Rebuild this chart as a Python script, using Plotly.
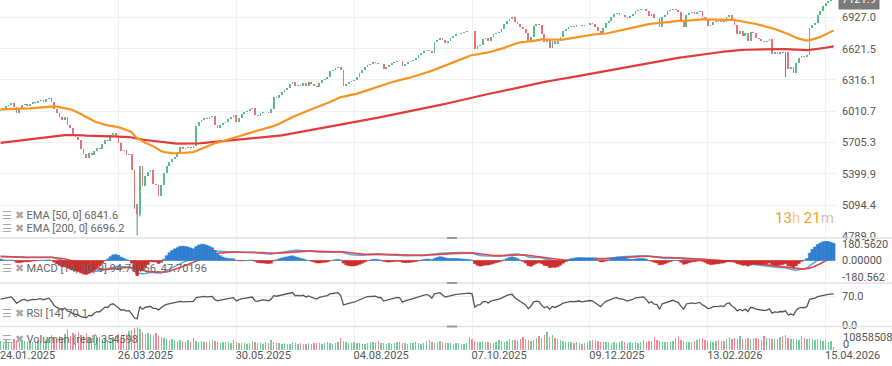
import plotly.graph_objects as go
from plotly.subplots import make_subplots

# ---------------- data ----------------
closes = [
    6025,
    6040, 6060, 6075, 6090, 6050, 5990, 6030, 6070, 6085, 6060,
    6080, 6100, 6095, 6110, 6120, 6105, 6130, 6140, 6100, 6030,
    5990, 5960, 5930, 5960, 5880, 5850, 5790, 5760, 5730, 5640,
    5590, 5560, 5600, 5580, 5620, 5650, 5640, 5690, 5730, 5720,
    5780, 5800, 5760, 5700, 5620, 5630, 5580, 5590, 5440, 5110,
    5010, 5480, 5280, 5380, 5420, 5440, 5300, 5290, 5180, 5290,
    5410, 5480, 5520, 5550, 5570, 5600, 5660, 5640, 5650, 5665,
    5650, 5670, 5870, 5910, 5930, 5950, 5940, 5960, 5965, 5880,
    5850, 5880, 5895, 5910, 5935, 5960, 5975, 5905, 5945, 5985,
    6000, 6015, 6030, 6045, 5975, 5965, 5990, 6005, 6000, 5990,
    6030, 6150, 6140, 6165, 6195, 6220, 6240, 6280, 6300, 6255,
    6270, 6262, 6285, 6262, 6292, 6275, 6262, 6250, 6290, 6320,
    6330, 6345, 6400, 6415, 6430, 6445, 6410, 6260, 6275, 6300,
    6310,
    6320, 6350, 6380, 6410, 6440, 6465, 6475, 6490, 6485, 6470,
    6470, 6425, 6440, 6460, 6485, 6495, 6505, 6500, 6450, 6470,
    6490, 6500, 6515, 6530, 6560, 6580, 6595, 6610, 6600, 6575,
    6690, 6705, 6730, 6705, 6680, 6700, 6725, 6745, 6760, 6765,
    6775, 6782, 6790, 6795, 6790, 6615, 6650, 6660, 6715, 6725,
    6700, 6740, 6760, 6770, 6785, 6810, 6860, 6890, 6915, 6930,
    6885, 6860, 6830, 6810, 6770, 6685, 6735, 6840, 6860, 6850,
    6760, 6690, 6720, 6625, 6700, 6665, 6695, 6735, 6790, 6810,
    6835, 6842, 6835, 6848, 6855, 6840, 6848, 6852, 6870, 6862,
    6830, 6790, 6765, 6820, 6870, 6895, 6930, 6955, 6968, 6950,
    6950, 6935, 6920, 6942, 6955, 6990, 7000, 7005, 7012, 6985,
    6940, 6960, 6925, 6922, 6830, 6930, 6950, 6985, 7000, 7012,
    6995,
    6975, 6900, 6830, 6945, 6965, 6975, 6960, 6978, 6988, 6935,
    6905, 6845, 6852, 6880, 6890, 6885, 6892, 6880, 6935, 6945,
    6890, 6850, 6765, 6790, 6745, 6775, 6700, 6785, 6770, 6725,
    6712, 6700, 6685, 6692, 6712, 6565, 6590, 6572, 6585, 6578,
    6592, 6420, 6440, 6380, 6480, 6530, 6548, 6540, 6562, 6820,
    6850, 6870, 6950, 6985, 7040, 7070, 7090, 7105,
    7121.9,
]
first_open = 6010

# extreme wick lows (bar index -> price)
wick_low_idx = [50, 51, 52, 293]
wick_low_val = [5060, 4800, 4985, 6345]

volumes_m = [
    4.2, 3.8, 4.5, 3.6, 4.0, 5.1, 4.3, 3.9, 4.6, 4.1,
    3.7, 4.4, 4.0, 3.5, 4.8, 4.2, 3.9, 4.5, 5.6, 7.2,
    6.1, 5.4, 6.8, 5.9, 7.5, 9.8, 6.7, 7.9, 6.2, 8.4,
    7.1, 6.5, 7.8, 6.0, 5.8, 6.9, 5.5, 6.3, 5.2, 5.7,
    4.9, 5.3, 6.1, 6.6, 7.4, 5.9, 6.8, 7.7, 8.9, 9.6,
    10.4, 10.86, 9.9, 8.7, 7.6, 8.2, 7.1, 6.9, 8.0, 6.4,
    6.0, 5.6, 5.1, 4.8, 5.3, 4.6, 4.4, 4.9, 4.2, 4.0,
    4.5, 3.8, 5.6, 4.3, 3.9, 4.1, 3.6, 3.7, 4.2, 4.8,
    4.4, 3.9, 3.5, 3.8, 4.0, 3.6, 3.4, 4.6, 3.9, 3.3,
    3.5, 3.2, 3.0, 3.4, 4.1, 3.8, 3.2, 3.1, 2.9, 3.6,
    3.3, 4.5, 3.9, 3.4, 3.1, 2.8, 3.2, 3.0, 2.7, 3.8,
    3.1, 2.9, 3.3, 2.6, 3.0, 3.4, 2.8, 3.5, 3.1, 3.2,
    2.9, 3.3, 3.6, 3.2, 3.0, 3.4, 3.9, 5.8, 4.4, 3.7,
    3.5, 3.3, 3.6, 3.2, 3.4, 3.0, 2.8, 3.1, 3.6, 3.9,
    3.3, 4.4, 3.5, 3.2, 3.0, 3.3, 2.9, 3.1, 4.0, 3.6,
    3.4, 3.2, 3.0, 3.5, 3.3, 3.8, 3.1, 2.9, 3.4, 4.1,
    4.6, 3.9, 3.5, 3.8, 4.2, 3.6, 3.3, 3.4, 3.2, 3.0,
    3.1, 3.3, 3.0, 2.9, 3.2, 6.2, 5.1, 4.4, 4.0, 3.7,
    4.2, 3.8, 3.6, 3.4, 3.3, 3.9, 4.6, 4.2, 4.0, 4.4,
    5.0, 4.5, 4.7, 4.2, 5.3, 6.0, 5.4, 4.6, 4.3, 4.8,
    5.9, 6.6, 5.5, 7.2, 8.5, 6.3, 7.0, 5.6, 5.0, 4.7,
    4.2, 3.9, 3.6, 3.8, 3.4, 3.7, 3.2, 2.9, 3.5, 3.6,
    4.1, 4.6, 4.9, 4.3, 4.0, 3.8, 3.9, 3.6, 3.4, 3.8,
    3.5, 3.9, 4.2, 3.7, 3.5, 3.9, 3.4, 3.6, 3.3, 4.0,
    4.5, 3.8, 4.1, 4.3, 6.1, 4.7, 4.2, 3.9, 3.6, 3.8,
    4.0, 4.4, 5.6, 6.4, 4.8, 4.2, 4.0, 3.9, 3.7, 4.3,
    4.6, 5.1, 5.5, 4.7, 4.3, 4.1, 4.0, 4.2, 4.6, 4.1,
    4.4, 5.0, 6.3, 5.4, 5.8, 5.1, 6.5, 5.3, 5.0, 5.6,
    5.2, 5.5, 5.9, 5.1, 4.8, 6.6, 5.7, 5.9, 5.2, 5.4,
    5.0, 6.2, 6.8, 7.0, 5.9, 5.4, 5.1, 5.3, 4.9, 6.4,
    5.6, 5.2, 5.8, 5.0, 4.7, 5.4, 4.6, 4.4, 4.9, 3.8,
    4.1, 1.2,
]

date_tick_idx = [0, 44, 88, 132, 176, 220, 264, 308]
date_labels = ["24.01.2025", "26.03.2025", "30.05.2025", "04.08.2025",
               "07.10.2025", "09.12.2025", "13.02.2026", "15.04.2026"]
price_ticks = [4789.0, 5094.4, 5399.9, 5705.3, 6010.7, 6316.1, 6621.5, 6927.0]
macd_ticks = [180.562, 0.0, -180.562]
macd_tick_text = ["180.5620", "0.00000", "-180.562"]
rsi_ticks = [70, 0]
rsi_tick_text = ["70.0", "0.0"]
vol_labels = ["10858508", "0"]
vol_max = 10858508

# indicator state at the left edge
ema50_seed, ema200_seed = 6030, 5700
ema14_seed, ema30_seed, signal_seed = 6030, 5980, 40
rsi_gain_seed, rsi_loss_seed = 20.0, 12.5

last_price = "7121.9"
legend_ema50 = "EMA [50, 0] 6841.6"
legend_ema200 = "EMA [200, 0] 6696.2"
legend_macd = "MACD [14, 30, 9] 94.75166, 47.70196"
legend_rsi = "RSI [14] 70.1"
legend_vol = "Volumen (real) 354598"

# ---------------- derived series ----------------
n = len(closes)
x = list(range(n))
opens = [first_open] + closes[:-1]
volumes = [v * 1e6 for v in volumes_m[:n]]


def ema(vals, period, seed):
    k = 2.0 / (period + 1)
    e = seed
    out = []
    for v in vals:
        e = e + k * (v - e)
        out.append(e)
    return out


ema50 = ema(closes, 50, ema50_seed)
ema200 = ema(closes, 200, ema200_seed)
ema14 = ema(closes, 14, ema14_seed)
ema30 = ema(closes, 30, ema30_seed)
macd = [a - b for a, b in zip(ema14, ema30)]
signal = ema(macd, 9, signal_seed)
hist = [m - s for m, s in zip(macd, signal)]
hist_span = max(abs(h) for h in hist)

rsi = []
ag, al = rsi_gain_seed, rsi_loss_seed
prev = first_open
for c in closes:
    ch = c - prev
    ag = (ag * 13 + max(ch, 0)) / 14
    al = (al * 13 + max(-ch, 0)) / 14
    rsi.append(100 - 100 / (1 + ag / al) if al > 0 else 100)
    prev = c

GREEN = "#58bd8a"
RED = "#ea727b"
up = [c >= o for o, c in zip(opens, closes)]
body_base = [min(o, c) for o, c in zip(opens, closes)]
body_h = [max(abs(c - o), 3) for o, c in zip(opens, closes)]
body_col = [GREEN if u else RED for u in up]

wx, wy = [], []
for i, lo in zip(wick_low_idx, wick_low_val):
    wx += [i, i, None]
    wy += [min(opens[i], closes[i]), lo, None]

# ---------------- figure ----------------
fig = make_subplots(rows=4, cols=1, shared_xaxes=True, vertical_spacing=0)

fig.add_trace(go.Bar(x=x, y=body_h, base=body_base, width=0.66,
                     marker=dict(color=body_col, line=dict(width=0)),
                     hoverinfo="skip"), row=1, col=1)
fig.add_trace(go.Scatter(x=wx, y=wy, mode="lines",
                         line=dict(color="#2e9e63", width=1), hoverinfo="skip"),
              row=1, col=1)
fig.add_trace(go.Scatter(x=x, y=ema200, mode="lines",
                         line=dict(color="#e03b3b", width=2.2)), row=1, col=1)
fig.add_trace(go.Scatter(x=x, y=ema50, mode="lines",
                         line=dict(color="#f7931e", width=2.2)), row=1, col=1)

# histogram on its own (overlaying) scale inside the MACD pane
hist_col = ["#2f7fd0" if h >= 0 else "#cf2b2b" for h in hist]
fig.add_trace(go.Bar(x=x, y=hist, width=1.0, yaxis="y5", xaxis="x2",
                     marker=dict(color=hist_col, line=dict(color=hist_col, width=0.6))))
fig.add_trace(go.Scatter(x=x, y=macd, mode="lines",
                         line=dict(color="#5ba3e6", width=1.6)), row=2, col=1)
fig.add_trace(go.Scatter(x=x, y=signal, mode="lines",
                         line=dict(color="#e04848", width=1.6)), row=2, col=1)

fig.add_trace(go.Scatter(x=x, y=rsi, mode="lines",
                         line=dict(color="#555555", width=1.3)), row=3, col=1)

vol_col = ["#72cc9c" if u else "#f08a92" for u in up]
fig.add_trace(go.Bar(x=x, y=volumes, width=0.5,
                     marker=dict(color=vol_col, line=dict(width=0))), row=4, col=1)

W, H = 892, 366
ML, MR, MT, MB = 0, 56, 0, 16
PH = H - MT - MB


def dom(top_px, bot_px):
    return [(PH - bot_px) / PH, (PH - top_px) / PH]


px_per_bar = 2.679
xr = [-0.2, -0.2 + (W - MR) / px_per_bar]
grid = "#f0f0f0"
afont = dict(family="Roboto", size=11, color="#555555")

for i in range(1, 5):
    key = "xaxis" if i == 1 else f"xaxis{i}"
    fig.layout[key].update(range=xr, tickmode="array", tickvals=date_tick_idx,
                           showgrid=True, gridcolor=grid, gridwidth=1,
                           zeroline=False, showline=False, ticks="",
                           showticklabels=(i == 4), fixedrange=True,
                           automargin=False)
fig.layout.xaxis4.update(ticktext=date_labels, tickfont=afont,
                         ticklabelshift=27, ticklabelstandoff=-3,
                         ticklabeloverflow="allow")

common_y = dict(side="right", zeroline=False, ticks="", automargin=False,
                tickfont=afont, ticklabelstandoff=5, tickmode="array")
fig.layout.yaxis.update(domain=dom(0, 237), range=[4785, 7096],
                        tickvals=price_ticks,
                        ticktext=[f"{v:.1f}" for v in price_ticks],
                        showgrid=True, gridcolor=grid, **common_y)
macd_dom = dom(239, 282)
fig.layout.yaxis2.update(domain=macd_dom, range=[-232, 232],
                         tickvals=macd_ticks, ticktext=macd_tick_text,
                         showgrid=False, **common_y)
fig.layout.yaxis3.update(domain=dom(284, 325), range=[0, 100],
                         tickvals=rsi_ticks, ticktext=rsi_tick_text,
                         showgrid=True, gridcolor=grid, **common_y)
fig.layout.yaxis4.update(domain=dom(327, 350), range=[0, vol_max], side="right",
                         showticklabels=False, showgrid=False, zeroline=False,
                         ticks="", automargin=False)
fig.update_layout(yaxis5=dict(overlaying="y2", anchor="x2", side="right",
                              range=[-hist_span * 1.12, hist_span * 1.12],
                              showticklabels=False, showgrid=False,
                              zeroline=False, ticks="", automargin=False))

shapes = []
for py in [238, 283, 326.5]:
    yp = (PH - py) / PH
    shapes.append(dict(type="line", xref="paper", yref="paper",
                       x0=0, x1=W / (W - MR), y0=yp, y1=yp,
                       line=dict(color="#e2e2e2", width=1.5)))
    cx = 452 / (W - MR)
    shapes.append(dict(type="rect", xref="paper", yref="paper",
                       x0=cx - 5 / (W - MR), x1=cx + 5 / (W - MR),
                       y0=yp - 1 / PH, y1=yp + 1 / PH,
                       fillcolor="#9a9a9a", line=dict(width=0)))


def ypap(py):
    return (PH - py) / PH


icons = '<span style="color:#a8a8a8">☰ ✖</span> '
lfont = dict(family="Roboto", size=11, color="#666666")
annotations = []
for txt, py in [(legend_ema50, 215), (legend_ema200, 228), (legend_macd, 268),
                (legend_rsi, 313), (legend_vol, 339)]:
    annotations.append(dict(xref="paper", yref="paper", x=0, y=ypap(py),
                            xanchor="left", yanchor="middle", showarrow=False,
                            text=icons + txt, font=lfont))

annotations.append(dict(
    xref="paper", yref="paper", x=1, y=ypap(218), xanchor="right", yanchor="middle",
    showarrow=False, font=dict(family="Roboto", size=15, color="#f5a11c"),
    text='13<span style="color:#f7c98a">h</span> 21<span style="color:#c8c8c8">m</span>'))

annotations.append(dict(
    xref="paper", yref="paper", x=1, y=1, xanchor="left", yanchor="middle",
    xshift=2, yshift=1, showarrow=False, text=last_price, bgcolor="#7b7b7b",
    borderpad=3, font=dict(family="Roboto", size=11, color="#ffffff")))

for txt, py in zip(vol_labels, [337, 344]):
    annotations.append(dict(xref="paper", yref="paper", x=1, y=ypap(py),
                            xanchor="left", yanchor="middle", xshift=5,
                            showarrow=False, text=txt, font=afont))

fig.update_layout(
    width=W, height=H,
    margin=dict(l=ML, r=MR, t=MT, b=MB, autoexpand=False),
    paper_bgcolor="white", plot_bgcolor="white", showlegend=False,
    bargap=0, barmode="overlay", font=dict(family="Roboto"),
    shapes=shapes, annotations=annotations,
)

fig.write_html("out.html",
               config={"displayModeBar": False, "staticPlot": True},
               post_script="document.body.style.margin='0';"
                           "document.body.style.overflow='hidden';")
